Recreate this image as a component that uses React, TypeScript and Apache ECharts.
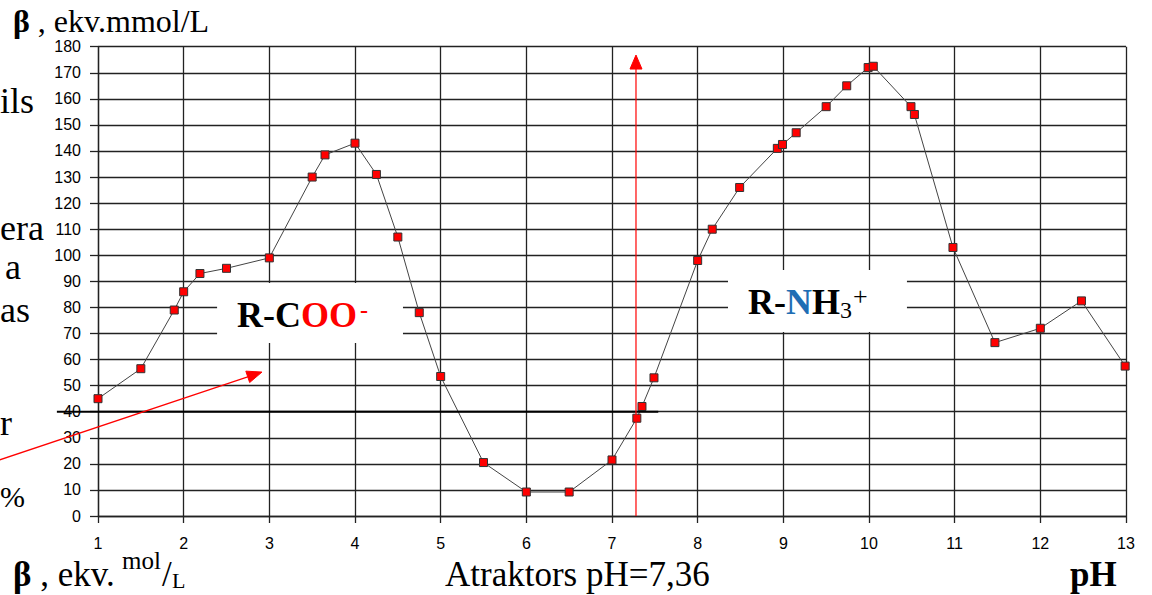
import React, { useEffect, useRef } from "react";
import * as echarts from "echarts";

const phValues = [1, 1.5, 1.89, 2.0, 2.19, 2.5, 3.0, 3.5, 3.65, 4.0, 4.25, 4.5, 4.75, 5.0, 5.5, 6.0, 6.5, 7.0, 7.29, 7.35, 7.49, 8.0, 8.17, 8.49, 8.93, 8.99, 9.15, 9.5, 9.74, 9.99, 10.05, 10.49, 10.53, 10.98, 11.47, 12.0, 12.48, 12.99];
const betaValues = [45, 56.5, 79, 86, 93, 95, 99, 130, 138.5, 143, 131, 107, 78, 53.5, 20.5, 9.2, 9.2, 21.5, 37.5, 42, 53, 98, 110, 126, 141, 142.5, 147, 157, 165, 172, 172.5, 157, 154, 103, 66.5, 72, 82.5, 57.5];

const xMin = 1;
const xMax = 13;
const yMin = 0;
const yMax = 180;
const attractorLinePh = 7.28;
const attractorTopBeta = 176.8;
const baselineBeta = 40;
const baselineFrom = 0.52;
const baselineTo = 7.54;
const diagStart = [-0.26, 20.3];
const diagTip = [2.914, 55.2];
const cooBox = [2.39, 89.4, 4.56, 66.4];
const nh3Box = [8.354, 94.4, 10.443, 70.6];

const serif = "'Liberation Serif', 'Times New Roman', serif";
const sans = "'Liberation Sans', Arial, sans-serif";

function txt(text: string, x: number, baseline: number, size: number, extra: any = {}) {
  return {
    type: "text",
    x,
    y: baseline - 0.34 * size,
    z: 10,
    style: {
      text,
      fontFamily: serif,
      fontSize: size,
      lineHeight: Math.round(size * 0.8),
      fontWeight: "normal",
      fill: "#000",
      align: "left",
      verticalAlign: "middle",
      ...extra,
    },
  };
}

function tok(size: number, fill: string, weight = "bold") {
  return { fontWeight: weight, fontFamily: serif, fontSize: size, lineHeight: Math.round(size * 0.8), fill };
}

export default function App() {
  const ref = useRef<HTMLDivElement>(null);
  useEffect(() => {
    if (!ref.current) return;
    const chart = echarts.init(ref.current, undefined, { renderer: "svg" });
    const gridColor = "#222";
    chart.setOption({
      animation: false,
      backgroundColor: "#fff",
      grid: { left: 98, right: 26, top: 46.7, bottom: 79 },
      xAxis: {
        type: "value",
        min: xMin,
        max: xMax,
        interval: 1,
        axisLine: { show: true, onZero: false, lineStyle: { color: gridColor, width: 1.3 } },
        axisTick: { show: true, length: 7, lineStyle: { color: gridColor, width: 1.3 } },
        splitLine: { show: true, lineStyle: { color: gridColor, width: 1.3 } },
        axisLabel: { fontFamily: sans, fontSize: 16, color: "#000", margin: 19 },
      },
      yAxis: {
        type: "value",
        min: yMin,
        max: yMax,
        interval: 10,
        axisLine: { show: true, onZero: false, lineStyle: { color: gridColor, width: 1.3 } },
        axisTick: { show: true, length: 8, lineStyle: { color: gridColor, width: 1.3 } },
        splitLine: { show: true, lineStyle: { color: gridColor, width: 1.3 } },
        axisLabel: { fontFamily: sans, fontSize: 16, color: "#000", margin: 17 },
      },
      series: [
        {
          type: "line",
          z: 5,
          data: phValues.map((p, i) => [p, betaValues[i]]),
          symbol: "rect",
          symbolSize: 8,
          showAllSymbol: true,
          lineStyle: { color: "#444", width: 1 },
          itemStyle: { color: "#ff0000", borderColor: "#333", borderWidth: 1 },
        },
      ],
    });

    const px = (p: number[]) => chart.convertToPixel({ xAxisIndex: 0, yAxisIndex: 0 }, p) as number[];

    const arrow = (s: number[], t: number[], len: number, half: number) => {
      const a = px(s);
      const b = px(t);
      const dx = b[0] - a[0];
      const dy = b[1] - a[1];
      const L = Math.hypot(dx, dy);
      const ux = dx / L;
      const uy = dy / L;
      const bx = b[0] - ux * len;
      const by = b[1] - uy * len;
      return [
        { type: "line", z: 8, shape: { x1: a[0], y1: a[1], x2: bx, y2: by }, style: { stroke: "#ff0000", lineWidth: 1.2 } },
        {
          type: "polygon",
          z: 8,
          shape: { points: [[b[0], b[1]], [bx - uy * half, by + ux * half], [bx + uy * half, by - ux * half]] },
          style: { fill: "#ff0000", stroke: "#ff0000" },
        },
      ];
    };

    const box = (r: number[]) => {
      const a = px([r[0], r[1]]);
      const b = px([r[2], r[3]]);
      return { type: "rect", z: 1, shape: { x: a[0], y: a[1], width: b[0] - a[0], height: b[1] - a[1] }, style: { fill: "#fff" } };
    };

    const bl1 = px([baselineFrom, baselineBeta]);
    const bl2 = px([baselineTo, baselineBeta]);

    chart.setOption({
      graphic: [
        box(cooBox),
        box(nh3Box),
        { type: "line", z: 8, shape: { x1: bl1[0], y1: bl1[1], x2: bl2[0], y2: bl2[1] }, style: { stroke: "#000", lineWidth: 2 } },
        ...arrow([attractorLinePh, yMin], [attractorLinePh, attractorTopBeta], 14, 6),
        ...arrow(diagStart, diagTip, 15, 6),
        txt("{b|β}{n| , ekv.mmol/L}", 13, 32, 32, { rich: { b: tok(32, "#000"), n: tok(32, "#000", "normal") } }),
        txt("{b|β}{n| , ekv.}", 13, 586, 35, { rich: { b: tok(35, "#000"), n: tok(35, "#000", "normal") } }),
        txt("mol", 122, 569, 25),
        txt("/", 162, 586, 35),
        txt("L", 172, 588, 22),
        txt("Atraktors pH=7,36", 445, 586, 35),
        txt("pH", 1070, 586, 35, { fontWeight: "bold" }),
        txt("{k|R-C}{r|OO}", 237, 327, 36, { rich: { k: tok(36, "#000"), r: tok(36, "#ff0000") } }),
        txt("-", 360, 318, 24, { fontWeight: "bold", fill: "#ff0000" }),
        txt("{k|R-}{n|N}{k|H}", 748, 314, 36, { rich: { k: tok(36, "#000"), n: tok(36, "#1f6eb4") } }),
        txt("3", 840, 318, 24),
        txt("+", 853, 305, 26),
        txt("ils", 0, 113, 36),
        txt("era", 0, 240, 36),
        txt("a", 5, 279, 36),
        txt("as", 0, 322, 36),
        txt("r", 0, 435, 36),
        txt("%", 0, 507, 30),
      ],
    });

    return () => chart.dispose();
  }, []);

  return <div ref={ref} style={{ position: "fixed", left: 0, top: 0, width: 1152, height: 595 }} />;
}
